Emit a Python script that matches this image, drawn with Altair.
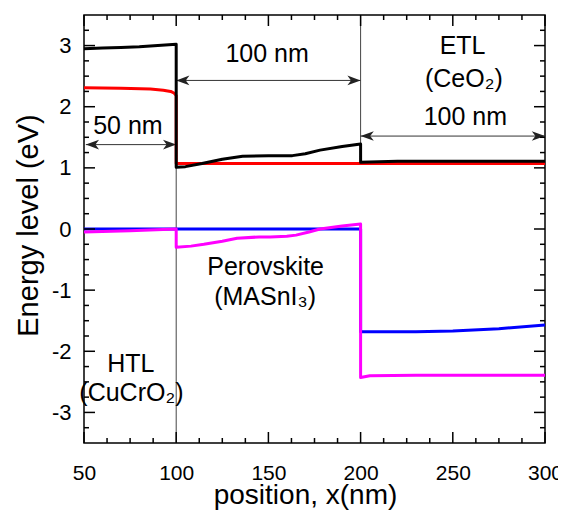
import altair as alt
import pandas as pd

# ---------------- data ----------------
black_x = [50, 60, 70, 80, 90, 100, 100, 105, 114, 125, 136, 150, 163, 170, 178, 190, 200, 200, 210, 220, 250, 300]
black_y = [2.95, 2.96, 2.97, 2.98, 3.00, 3.02, 1.01, 1.02, 1.07, 1.14, 1.19, 1.20, 1.20, 1.23, 1.29, 1.35, 1.39, 1.09, 1.10, 1.11, 1.11, 1.11]

red_x = [50, 70, 86, 93, 97, 99, 100, 100, 300]
red_y = [2.31, 2.30, 2.29, 2.27, 2.25, 2.22, 2.18, 1.07, 1.07]

blue_x = [50, 200, 200, 230, 250, 275, 300]
blue_y = [0.0, 0.0, -1.68, -1.68, -1.67, -1.63, -1.57]

magenta_x = [50, 75, 100, 100, 108, 115, 125, 133, 145, 151, 160, 165, 172, 178, 190, 200, 200, 205, 230, 300]
magenta_y = [-0.05, -0.03, 0.0, -0.30, -0.28, -0.25, -0.20, -0.15, -0.13, -0.13, -0.12, -0.10, -0.05, 0.0, 0.05, 0.08, -2.43, -2.40, -2.39, -2.39]

series_names = ["Ev_red", "Ec_black", "blue", "magenta"]
series_colors = ["#ff0000", "#000000", "#0000ff", "#ff00ff"]
series_data = [(red_x, red_y), (black_x, black_y), (blue_x, blue_y), (magenta_x, magenta_y)]

x_major = [50, 100, 150, 200, 250, 300]
y_major = [-3, -2, -1, 0, 1, 2, 3]

# boundary lines: x, y from, y to
bound_x = [100, 200]
bound_y1 = [-3.5, 1.39]
bound_y2 = [3.0, 3.5]

# double arrows: x start, x end, y
arrow_x1 = [51, 100, 200]
arrow_x2 = [100, 200, 300]
arrow_y = [1.38, 2.43, 1.52]

label_text = ["50 nm", "100 nm", "ETL", "(CeO₂)", "100 nm", "Perovskite", "(MASnI₃)", "HTL", "(CuCrO₂)"]
label_x = [73.8, 149.3, 255.3, 256.0, 256.8, 148.5, 148.2, 75.4, 75.7]
label_y = [1.68, 2.86, 2.985, 2.45, 1.835, -0.627, -1.115, -2.215, -2.68]

# ---------------- chart ----------------
W, H = 461, 428
FONT = "Liberation Sans"
xs = alt.Scale(domain=[50, 300], nice=False, zero=False)
ys = alt.Scale(domain=[-3.5, 3.5], nice=False, zero=False)

x_axis = alt.Axis(values=x_major, ticks=False, tickSize=0, domain=False, grid=False,
                  labelFont=FONT, labelFontSize=21, labelColor="black", labelPadding=19,
                  labelFlush=False, labelExpr="'' + datum.value",
                  title="position, x(nm)", titleFont=FONT, titleFontSize=28,
                  titleFontWeight="normal", titleColor="black", titleX=221, titleY=60,
                  titleBaseline="alphabetic", titleAlign="center")
y_axis = alt.Axis(values=y_major, ticks=False, tickSize=0, domain=False, grid=False,
                  labelFont=FONT, labelFontSize=22, labelColor="black", labelPadding=13,
                  labelExpr="'' + datum.value",
                  title="Energy level (eV)", titleFont=FONT, titleFontSize=29,
                  titleFontWeight="normal", titleColor="black", titleX=-56, titleY=210,
                  titleAngle=270, titleBaseline="middle", titleAlign="center")


def X(field):
    return alt.X(field, scale=xs, axis=x_axis)


def Y(field):
    return alt.Y(field, scale=ys, axis=y_axis)


layers = []

# boundary lines
bdf = pd.DataFrame({"x": bound_x, "y1": bound_y1, "y2": bound_y2})
layers.append(alt.Chart(bdf).mark_rule(color="#444444", strokeWidth=1).encode(
    x=X("x:Q"), y=Y("y1:Q"), y2="y2:Q"))

# arrows
adf = pd.DataFrame({"x1": arrow_x1, "x2": arrow_x2, "y": arrow_y})
layers.append(alt.Chart(adf).mark_rule(color="#333333", strokeWidth=1).encode(
    x=X("x1:Q"), x2="x2:Q", y=Y("y:Q")))
left_head = "M0,0L2.2,-0.8L1.6,0L2.2,0.8Z"
right_head = "M0,0L-2.2,-0.8L-1.6,0L-2.2,0.8Z"
layers.append(alt.Chart(adf).mark_point(shape=left_head, filled=True, size=144, color="#222222", opacity=1).encode(
    x=X("x1:Q"), y=Y("y:Q")))
layers.append(alt.Chart(adf).mark_point(shape=right_head, filled=True, size=144, color="#222222", opacity=1).encode(
    x=X("x2:Q"), y=Y("y:Q")))

# labels
ldf = pd.DataFrame({"t": label_text, "x": label_x, "y": label_y})
layers.append(alt.Chart(ldf).mark_text(font=FONT, fontSize=25, color="black", align="center", baseline="middle").encode(
    x=X("x:Q"), y=Y("y:Q"), text="t:N"))

# curves
for name, col, (sx, sy) in zip(series_names, series_colors, series_data):
    df = pd.DataFrame({"x": sx, "y": sy, "o": list(range(len(sx)))})
    layers.append(alt.Chart(df).mark_line(color=col, strokeWidth=3, strokeJoin="round", clip=True).encode(
        x=X("x:Q"), y=Y("y:Q"), order="o:Q"))

# inward ticks
x_minor = [50 + 12.5 * i for i in range(1, 20) if (12.5 * i) % 50 != 0]
y_minor = [-3.5 + 0.25 * i for i in range(1, 28)]
y_minor = [v for v in y_minor if abs(v - round(v)) > 1e-9]
for vals, ln in [(x_major, 11), (x_minor, 5)]:
    tdf = pd.DataFrame({"v": vals})
    for a, b in [(H, H - ln), (0, ln)]:
        layers.append(alt.Chart(tdf).mark_rule(color="black", strokeWidth=1.5).encode(
            x=X("v:Q"), y=alt.value(a), y2=alt.value(b)))
for vals, ln in [(y_major, 11), (y_minor, 5)]:
    tdf = pd.DataFrame({"v": vals})
    for a, b in [(0, ln), (W, W - ln)]:
        layers.append(alt.Chart(tdf).mark_rule(color="black", strokeWidth=1.5).encode(
            y=Y("v:Q"), x=alt.value(a), x2=alt.value(b)))

chart = alt.layer(*layers).properties(
    width=W, height=H,
    padding={"left": 76, "top": 7, "right": 13, "bottom": 68},
    autosize=alt.AutoSizeParams(type="none"),
).configure_view(stroke="black", strokeWidth=1.5)

chart.save("out.html", embed_options={"renderer": "svg", "actions": False})
